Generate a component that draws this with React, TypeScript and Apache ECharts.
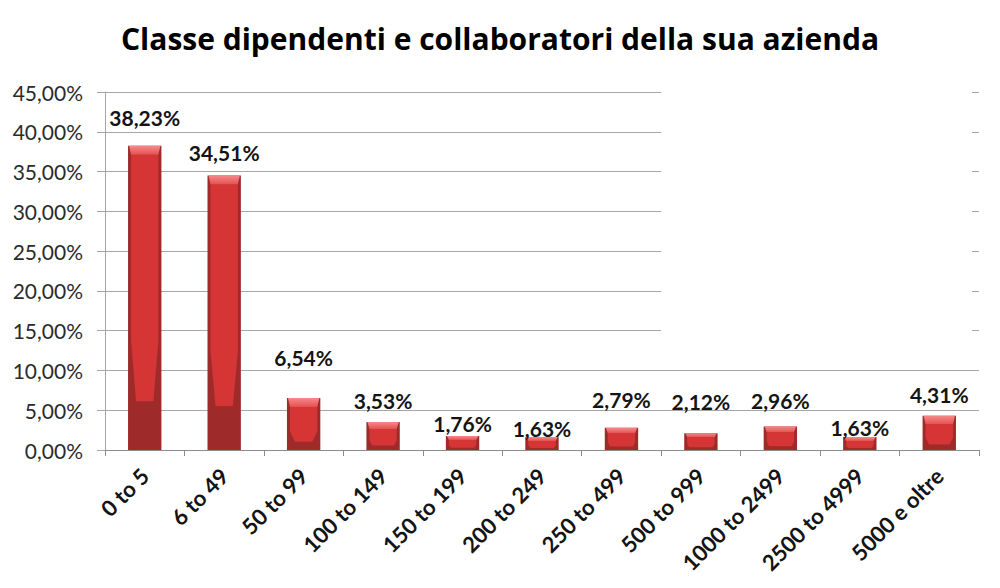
import React, { useEffect, useRef } from "react";
import * as echarts from "echarts";

const titleText = "Classe dipendenti e collaboratori della sua azienda";
const categories = [
  "0 to 5",
  "6 to 49",
  "50 to 99",
  "100 to 149",
  "150 to 199",
  "200 to 249",
  "250 to 499",
  "500 to 999",
  "1000 to 2499",
  "2500 to 4999",
  "5000 e oltre",
];
const shares = [38.23, 34.51, 6.54, 3.53, 1.76, 1.63, 2.79, 2.12, 2.96, 1.63, 4.31];
const yMin = 0;
const yMax = 45;
const yStep = 5;

// layout only: pixel gap between each bar top and its value label centre
const labelLift = [28, 23, 40, 21, 12, 9, 28, 32, 26, 10, 21];

const fmt = (v: number) => v.toFixed(2).replace(".", ",") + "%";

export default function App() {
  const ref = useRef<HTMLDivElement>(null);
  useEffect(() => {
    document.body.style.margin = "0";
    const chart = echarts.init(ref.current!, null, { renderer: "svg" });
    const renderItem = (params: any, api: any) => {
      const i = api.value(0);
      const v = api.value(1);
      const [cx, top] = api.coord([i, v]);
      const base = api.coord([i, 0])[1];
      const w = api.size([1, 0])[0] * 0.42;
      const L = cx - w / 2;
      const R = cx + w / 2;
      const h = base - top;
      const e = 3;
      const cap = Math.min(9, Math.max(4, h * 0.25));
      const dark = h * 0.16;
      const taper = h * 0.2;
      const ti = Math.min(5, Math.max(2, h * 0.1));
      return {
        type: "group",
        children: [
          {
            type: "rect",
            shape: { x: L, y: top, width: w, height: h },
            style: { fill: "#9e2a2a" },
          },
          {
            type: "polygon",
            shape: {
              points: [
                [L + e, top + cap],
                [R - e, top + cap],
                [R - e, base - dark - taper],
                [R - e - ti, base - dark],
                [L + e + ti, base - dark],
                [L + e, base - dark - taper],
              ],
            },
            style: { fill: "#d63535" },
          },
          {
            type: "polygon",
            shape: {
              points: [
                [L + 1, top],
                [R - 1, top],
                [R - e, top + cap],
                [L + e, top + cap],
              ],
            },
            style: {
              fill: new echarts.graphic.LinearGradient(0, 0, 0, 1, [
                { offset: 0, color: "#f58a8a" },
                { offset: 1, color: "#e65050" },
              ]),
            },
          },
          {
            type: "text",
            style: {
              text: fmt(v),
              x: cx,
              y: top - labelLift[i],
              align: "center",
              verticalAlign: "middle",
              font: "bold 21px Lato",
              fill: "#141414",
            },
          },
        ],
      };
    };
    chart.setOption({
      animation: false,
      backgroundColor: "#ffffff",
      title: {
        text: titleText,
        left: "center",
        top: 18,
        textStyle: {
          fontFamily: "Open Sans",
          fontWeight: "bold",
          fontSize: 30,
          color: "#000000",
        },
      },
      grid: { left: 105, right: 21, top: 92, bottom: 138 },
      xAxis: {
        type: "category",
        data: categories,
        axisLine: { show: true, lineStyle: { color: "#8c8c8c", width: 1 } },
        axisTick: { show: true, length: 6, lineStyle: { color: "#8c8c8c" } },
        axisLabel: {
          rotate: 45,
          interval: 0,
          margin: 22,
          fontFamily: "Lato",
          fontWeight: "bold",
          fontSize: 22,
          color: "#141414",
        },
      },
      yAxis: {
        type: "value",
        min: yMin,
        max: yMax,
        interval: yStep,
        axisLine: { show: true, lineStyle: { color: "#a6a6a6" } },
        axisTick: { show: true, length: 8, lineStyle: { color: "#a6a6a6" } },
        splitLine: { show: true, lineStyle: { color: "#a6a6a6", width: 1 } },
        axisLabel: {
          formatter: (v: number) => fmt(v),
          margin: 22,
          fontFamily: "Lato",
          fontSize: 21,
          color: "#2b2b2b",
        },
      },
      graphic: [
        {
          type: "rect",
          left: 661,
          top: 85,
          shape: { width: 311, height: 252 },
          style: { fill: "#ffffff" },
          z: 1,
        },
      ],
      series: [
        {
          type: "custom",
          renderItem,
          encode: { x: 0, y: 1 },
          data: shares.map((v, i) => [i, v]),
          z: 5,
        },
      ],
    });
    return () => chart.dispose();
  }, []);
  return <div ref={ref} style={{ width: 1000, height: 588 }} />;
}
